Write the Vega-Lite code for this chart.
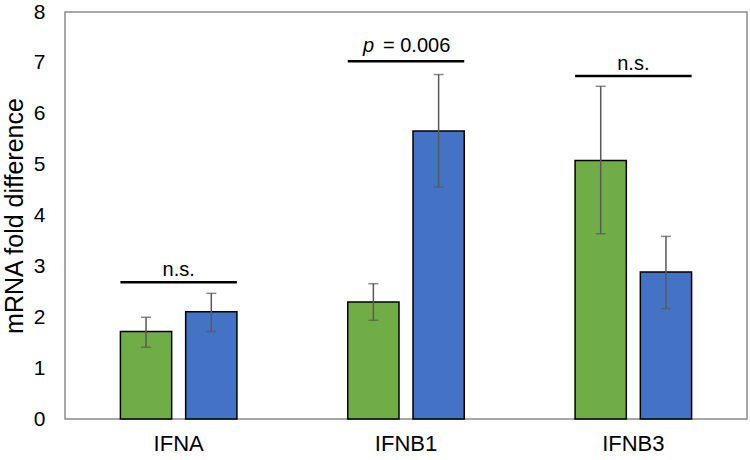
{
  "$schema": "https://vega.github.io/schema/vega-lite/v6.json",
  "width": 682,
  "height": 407,
  "autosize": {"type": "none"},
  "padding": {"left": 65, "top": 12, "right": 3, "bottom": 41},
  "background": "white",
  "config": {
    "view": {"stroke": "#8c8c8c", "strokeWidth": 1.5},
    "font": "Liberation Sans"
  },
  "datasets": {
    "bars": [
      {"gene": "IFNA", "series": "S1", "value": 1.72, "lo": 1.41, "hi": 2.0},
      {"gene": "IFNA", "series": "S2", "value": 2.11, "lo": 1.72, "hi": 2.47},
      {"gene": "IFNB1", "series": "S1", "value": 2.3, "lo": 1.94, "hi": 2.66},
      {"gene": "IFNB1", "series": "S2", "value": 5.66, "lo": 4.56, "hi": 6.77},
      {"gene": "IFNB3", "series": "S1", "value": 5.08, "lo": 3.64, "hi": 6.54},
      {"gene": "IFNB3", "series": "S2", "value": 2.89, "lo": 2.17, "hi": 3.59}
    ],
    "brackets": [
      {"gene": "IFNA", "bracket": 2.69, "italic": "", "label": "n.s."},
      {"gene": "IFNB1", "bracket": 7.03, "italic": "p", "label": "= 0.006"},
      {"gene": "IFNB3", "bracket": 6.74, "italic": "", "label": "n.s."}
    ]
  },
  "encoding": {
    "x": {
      "field": "gene",
      "type": "nominal",
      "sort": ["IFNA", "IFNB1", "IFNB3"],
      "scale": {"paddingInner": 0.4875, "paddingOuter": 0.24375},
      "axis": {
        "title": null,
        "labelAngle": 0,
        "labelFontSize": 22,
        "labelColor": "#000000",
        "labelPadding": 14,
        "ticks": false,
        "domain": false
      }
    }
  },
  "layer": [
    {
      "data": {"name": "bars"},
      "mark": {"type": "bar", "stroke": "#000000", "strokeWidth": 1.5},
      "encoding": {
        "xOffset": {"field": "series", "type": "nominal", "scale": {"paddingInner": 0.2146, "paddingOuter": 0}},
        "y": {
          "field": "value",
          "type": "quantitative",
          "title": "mRNA fold difference",
          "scale": {"domain": [0, 8], "nice": false},
          "axis": {
            "values": [0, 1, 2, 3, 4, 5, 6, 7, 8],
            "grid": false,
            "ticks": false,
            "domain": false,
            "labelFontSize": 21,
            "labelColor": "#000000",
            "labelPadding": 20,
            "labelBound": false,
            "titleFontSize": 25,
            "titleFontWeight": "normal",
            "titleColor": "#000000",
            "titlePadding": 6
          }
        },
        "color": {
          "field": "series",
          "type": "nominal",
          "scale": {"domain": ["S1", "S2"], "range": ["#70AD47", "#4472C4"]},
          "legend": null
        }
      }
    },
    {
      "data": {"name": "bars"},
      "mark": {"type": "rule", "color": "#595959", "strokeWidth": 1.5},
      "encoding": {
        "xOffset": {"field": "series", "type": "nominal", "scale": {"paddingInner": 0.2146, "paddingOuter": 0}},
        "y": {"field": "lo", "type": "quantitative", "title": "mRNA fold difference"},
        "y2": {"field": "hi"}
      }
    },
    {
      "data": {"name": "bars"},
      "mark": {"type": "tick", "color": "#595959", "size": 10, "thickness": 1.5},
      "encoding": {
        "xOffset": {"field": "series", "type": "nominal", "scale": {"paddingInner": 0.2146, "paddingOuter": 0}},
        "y": {"field": "lo", "type": "quantitative", "title": "mRNA fold difference"}
      }
    },
    {
      "data": {"name": "bars"},
      "mark": {"type": "tick", "color": "#595959", "size": 10, "thickness": 1.5},
      "encoding": {
        "xOffset": {"field": "series", "type": "nominal", "scale": {"paddingInner": 0.2146, "paddingOuter": 0}},
        "y": {"field": "hi", "type": "quantitative", "title": "mRNA fold difference"}
      }
    },
    {
      "data": {"name": "brackets"},
      "mark": {"type": "rule", "color": "#000000", "strokeWidth": 2.5},
      "encoding": {
        "x": {"field": "gene", "type": "nominal", "sort": ["IFNA", "IFNB1", "IFNB3"], "bandPosition": 0},
        "x2": {"field": "gene", "bandPosition": 1},
        "y": {"field": "bracket", "type": "quantitative", "title": "mRNA fold difference"}
      }
    },
    {
      "data": {"name": "brackets"},
      "transform": [{"filter": "datum.italic == ''"}],
      "mark": {"type": "text", "fontSize": 20, "color": "#000000", "baseline": "alphabetic", "align": "center", "dy": -6},
      "encoding": {
        "y": {"field": "bracket", "type": "quantitative", "title": "mRNA fold difference"},
        "text": {"field": "label"}
      }
    },
    {
      "data": {"name": "brackets"},
      "transform": [{"filter": "datum.italic != ''"}],
      "mark": {"type": "text", "fontSize": 20, "color": "#000000", "baseline": "alphabetic", "align": "left", "dx": -23, "dy": -9},
      "encoding": {
        "y": {"field": "bracket", "type": "quantitative", "title": "mRNA fold difference"},
        "text": {"field": "label"}
      }
    },
    {
      "data": {"name": "brackets"},
      "transform": [{"filter": "datum.italic != ''"}],
      "mark": {"type": "text", "fontSize": 20, "fontStyle": "italic", "color": "#000000", "baseline": "alphabetic", "align": "right", "dx": -32, "dy": -9},
      "encoding": {
        "y": {"field": "bracket", "type": "quantitative", "title": "mRNA fold difference"},
        "text": {"field": "italic"}
      }
    }
  ]
}
